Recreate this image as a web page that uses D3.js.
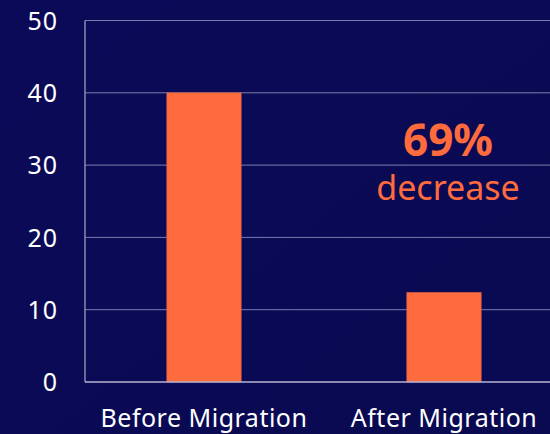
<!DOCTYPE html>
<html>
<head>
<meta charset="utf-8">
<script src="https://cdn.jsdelivr.net/npm/d3@7"></script>
<style>
  html, body { margin: 0; padding: 0; background: #0a0a56; }
  svg { display: block; }
</style>
</head>
<body>
<svg id="chart" width="550" height="434"></svg>
<script>
const categories = ["Before Migration", "After Migration"];
const values = [40, 12.4];
const yTicks = [0, 10, 20, 30, 40, 50];
const annotationValue = "69%";
const annotationText = "decrease";

const svg = d3.select("#chart");
const W = 550, H = 434;
const defs = svg.append("defs");
const grad = defs.append("linearGradient").attr("id", "bg").attr("x1", "0").attr("y1", "0").attr("x2", "1").attr("y2", "1");
grad.append("stop").attr("offset", "0").attr("stop-color", "#0a0a58");
grad.append("stop").attr("offset", "1").attr("stop-color", "#0a0a52");
svg.append("rect").attr("width", W).attr("height", H).attr("fill", "url(#bg)");

const x = d3.scaleBand().domain(categories).range([84, 564]).paddingInner(0.69).paddingOuter(0.345);
const y = d3.scaleLinear().domain([0, 50]).range([382, 20.5]);

// gridlines
svg.append("g").selectAll("line").data(yTicks.filter(d => d > 0)).join("line")
  .attr("x1", 85).attr("x2", W)
  .attr("y1", d => y(d)).attr("y2", d => y(d))
  .attr("stroke", "#7c7cb0").attr("stroke-width", 1);

// bars
svg.append("g").selectAll("rect").data(values).join("rect")
  .attr("x", (d, i) => x(categories[i]))
  .attr("width", x.bandwidth())
  .attr("y", d => y(d))
  .attr("height", d => y(0) - y(d))
  .attr("fill", "#ff6b3d")
  .attr("stroke", "#c85a48").attr("stroke-width", 0.6);

// axes lines
svg.append("line").attr("x1", 85).attr("x2", 85).attr("y1", y(50)).attr("y2", y(0))
  .attr("stroke", "#a8a8cc").attr("stroke-width", 1.2);
svg.append("line").attr("x1", 85).attr("x2", W).attr("y1", y(0)).attr("y2", y(0))
  .attr("stroke", "#b4b4d4").attr("stroke-width", 1.5);

// y axis labels
const yAxis = d3.axisLeft(y).tickValues(yTicks).tickSize(0).tickPadding(0);
const yg = svg.append("g").attr("transform", "translate(58,0)").call(yAxis);
yg.select(".domain").remove();
yg.selectAll("text").attr("fill", "#ffffff").attr("font-family", "Noto Sans, sans-serif")
  .attr("font-size", 25).attr("letter-spacing", 1).attr("dy", "0.35em");

// x axis labels
const xAxis = d3.axisBottom(x).tickSize(0).tickPadding(0);
const xg = svg.append("g").attr("transform", "translate(0,427)").call(xAxis);
xg.select(".domain").remove();
xg.selectAll("text").attr("fill", "#ffffff").attr("font-family", "Noto Sans, sans-serif")
  .attr("font-size", 25).attr("letter-spacing", 0.5).attr("y", 0).attr("dy", 0);

// annotation
const ax = x(categories[1]) + x.bandwidth() / 2 + 4;
svg.append("text").attr("x", ax).attr("y", 156).attr("text-anchor", "middle")
  .attr("fill", "#ff6b3d").attr("font-family", "Noto Sans, sans-serif").attr("font-weight", "bold")
  .attr("font-size", 44).text(annotationValue);
svg.append("text").attr("x", ax).attr("y", 200).attr("text-anchor", "middle")
  .attr("fill", "#ff6b3d").attr("font-family", "Noto Sans, sans-serif")
  .attr("font-size", 34).text(annotationText);
</script>
</body>
</html>
